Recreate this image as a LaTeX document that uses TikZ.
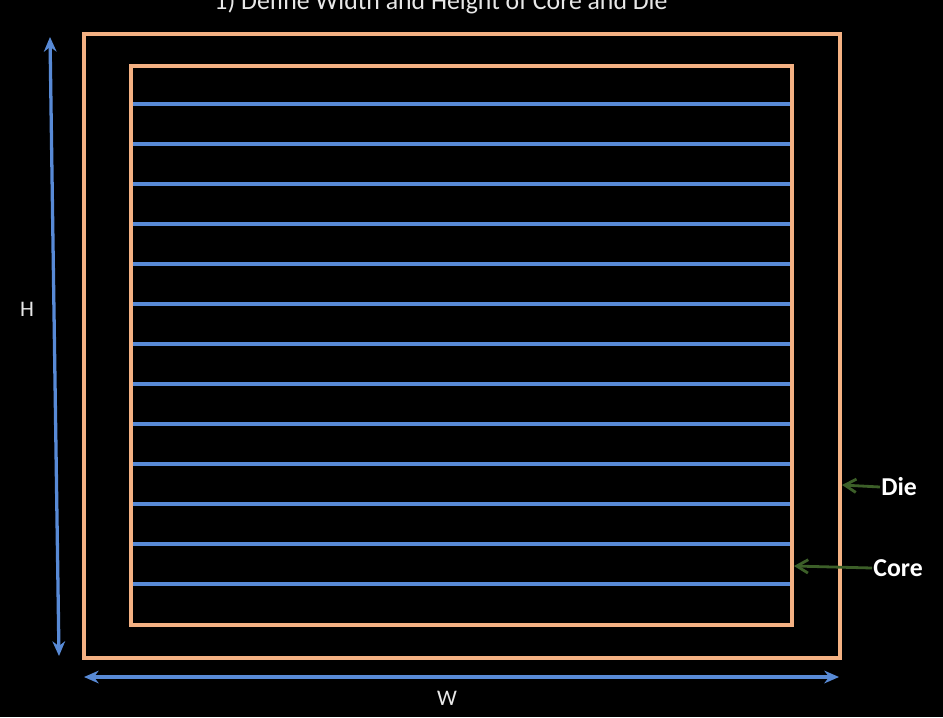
\documentclass[tikz,border=0pt]{standalone}
\usepackage{fontspec}
\setmainfont{Carlito}
\usepackage{xcolor}
\usetikzlibrary{arrows.meta,positioning}

\definecolor{edgeorange}{RGB}{244,177,131}
\definecolor{rowblue}{RGB}{88,138,214}
\definecolor{tagGreen}{RGB}{60,95,40}
\definecolor{paleText}{RGB}{232,232,232}

\begin{document}
\begin{tikzpicture}[
    x=0.03cm, y=-0.03cm,
    outline/.style={draw=edgeorange, line width=2.6pt},
    rowline/.style={draw=rowblue, line width=2.6pt},
    dim/.style={{Stealth[length=4.4mm,width=3.8mm]}-{Stealth[length=4.4mm,width=3.8mm]},
                draw=rowblue, line width=2.8pt},
    tag/.style={-{Straight Barb[length=3.4mm,width=4mm]}, draw=tagGreen, line width=2.4pt},
    dimtext/.style={text=paleText, font=\fontsize{19}{21}\selectfont},
    tagtext/.style={text=white, font=\fontsize{22}{24}\selectfont\bfseries, inner sep=1pt},
]
% --- canvas ---
\fill[black] (0,0) rectangle (943,717);
\useasboundingbox (0,0) rectangle (943,717);

% --- title (cut by the top edge) ---
\node[anchor=base, text=paleText, font=\fontsize{22}{24}\selectfont, inner sep=0pt]
  (title) at (441,9) {1) Define Width and Height of Core and Die};

% --- die and core outlines ---
\coordinate (die-nw) at (84,34);
\coordinate (die-se) at (840,658);
\coordinate (core-nw) at (131,66);
\coordinate (core-se) at (792,625);
\draw[outline] (die-nw) rectangle (die-se);
\draw[outline] (core-nw) rectangle (core-se);

% --- placement rows ---
\foreach \i in {0,...,12}
  \draw[rowline] (133,104+40*\i) -- (790,104+40*\i);

% --- dimension arrows ---
\coordinate (h-top) at (50,37);
\coordinate (h-bot) at (59,656);
\draw[dim] (h-top) -- (h-bot);
\node[dimtext] (hlab) at (27,309) {H};

\coordinate (w-left) at (84,677);
\coordinate (w-right) at (839,677);
\draw[dim] (w-left) -- (w-right);
\node[dimtext] (wlab) at (447,698) {W};

% --- die / core tags ---
\node[tagtext, anchor=west] (dielab) at (880,487) {Die};
\coordinate (die-edge) at (842,485);
\draw[tag] (dielab.west) -- (die-edge);

\node[tagtext, anchor=west] (corelab) at (872,568) {Core};
\coordinate (core-edge) at (794,566);
\draw[tag] (corelab.west) -- (core-edge);
\end{tikzpicture}
\end{document}
